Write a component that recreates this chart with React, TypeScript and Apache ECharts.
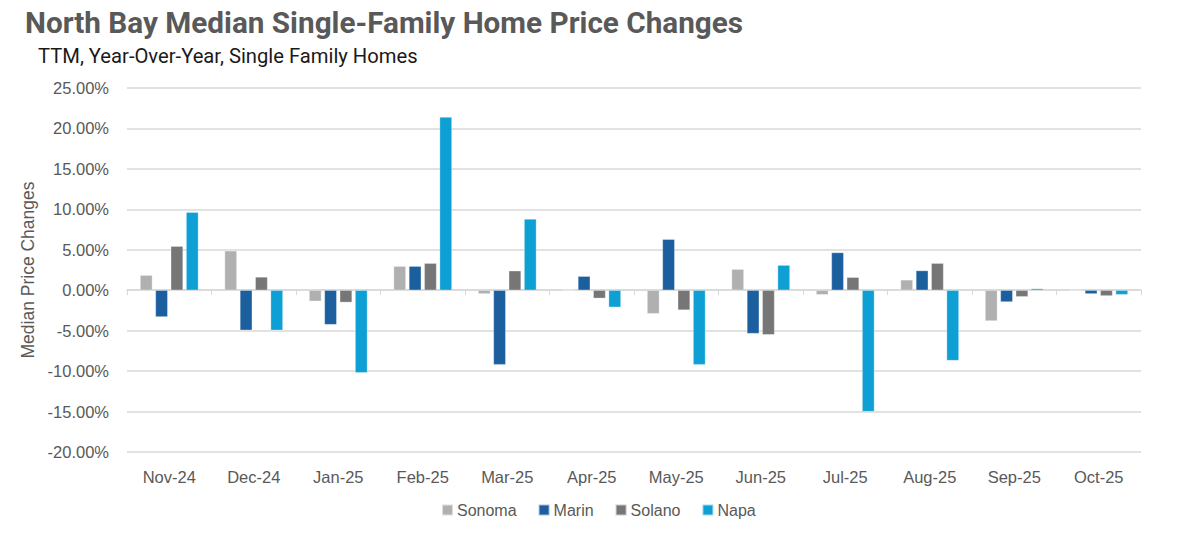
import React, { useEffect, useRef } from "react";
import * as echarts from "echarts";

const categories = ["Nov-24", "Dec-24", "Jan-25", "Feb-25", "Mar-25", "Apr-25", "May-25", "Jun-25", "Jul-25", "Aug-25", "Sep-25", "Oct-25"];
const sonoma = [1.86, 4.87, -1.36, 2.97, -0.45, 0.0, -2.9, 2.6, -0.55, 1.28, -3.8, 0.0];
const marin = [-3.3, -4.95, -4.25, 2.97, -9.2, 1.73, 6.3, -5.36, 4.66, 2.43, -1.45, -0.45];
const solano = [5.44, 1.65, -1.5, 3.34, 2.4, -1.0, -2.45, -5.5, 1.6, 3.34, -0.8, -0.7];
const napa = [9.65, -4.95, -10.2, 21.4, 8.8, -2.1, -9.2, 3.1, -15.0, -8.7, 0.2, -0.55];
const seriesNames = ["Sonoma", "Marin", "Solano", "Napa"];
const colors = ["#B0B0B0", "#1C5F9E", "#767676", "#0EA0D5"];
const titleText = "North Bay Median Single-Family Home Price Changes";
const subtitleText = "TTM, Year-Over-Year, Single Family Homes";

const labelFont = "'Liberation Sans', Arial, sans-serif";
const titleFont = "Roboto, sans-serif";

export default function App() {
  const ref = useRef<HTMLDivElement>(null);
  useEffect(() => {
    if (!ref.current) return;
    const chart = echarts.init(ref.current, null, { renderer: "svg" });
    const data = [sonoma, marin, solano, napa];
    chart.setOption({
      animation: false,
      backgroundColor: "#ffffff",
      color: colors,
      graphic: [
        { type: "circle", shape: { cx: -4, cy: -4, r: 9 }, style: { fill: "#34B8A6" } },
        {
          type: "text",
          x: 25,
          y: 22,
          scaleX: 0.99,
          style: {
            text: titleText,
            fontFamily: titleFont,
            fontSize: 30,
            fontWeight: "bold",
            fill: "#595959",
            verticalAlign: "middle",
          },
        },
        {
          type: "text",
          x: 38,
          y: 56,
          scaleX: 1.01,
          style: {
            text: subtitleText,
            fontFamily: titleFont,
            fontSize: 20,
            fill: "#1a1a1a",
            verticalAlign: "middle",
          },
        },
      ],
      legend: {
        data: seriesNames,
        bottom: 19,
        left: 436,
        itemWidth: 11,
        itemHeight: 11,
        itemGap: 21,
        icon: "rect",
        textStyle: { fontFamily: labelFont, fontSize: 16, color: "#595959", padding: [0, 0, 0, -1] },
      },
      grid: { left: 127, right: 37, top: 88, bottom: 90 },
      xAxis: [
        {
          type: "category",
          data: categories,
          axisLine: { onZero: true, lineStyle: { color: "#d9d9d9", width: 1.5 } },
          axisTick: { show: true, length: 5, lineStyle: { color: "#d9d9d9" } },
          axisLabel: { show: false },
          splitLine: { show: false },
        },
        {
          type: "category",
          data: categories,
          position: "bottom",
          axisLine: { show: false, onZero: false },
          axisTick: { show: false },
          axisLabel: { margin: 16, fontFamily: labelFont, fontSize: 16.5, color: "#595959" },
          splitLine: { show: false },
        },
      ],
      yAxis: {
        type: "value",
        min: -20,
        max: 25,
        interval: 5,
        name: "Median Price Changes",
        nameLocation: "middle",
        nameGap: 87,
        nameTextStyle: { fontFamily: labelFont, fontSize: 17.5, color: "#595959" },
        axisLine: { show: false },
        axisTick: { show: false },
        axisLabel: {
          margin: 18,
          fontFamily: labelFont,
          fontSize: 16.5,
          color: "#595959",
          formatter: (v: number) => v.toFixed(2) + "%",
        },
        splitLine: { lineStyle: { color: "#d9d9d9", width: 1.5 } },
      },
      series: data.map((d, i) => ({
        name: seriesNames[i],
        type: "bar",
        xAxisIndex: 0,
        data: d,
        barGap: "25%",
        barCategoryGap: "31%",
        itemStyle: { color: colors[i], borderColor: "rgba(255,255,255,0.6)", borderWidth: 0.5 },
      })),
    });
    return () => chart.dispose();
  }, []);
  return <div ref={ref} style={{ width: 1178, height: 542, margin: -8 }} />;
}
